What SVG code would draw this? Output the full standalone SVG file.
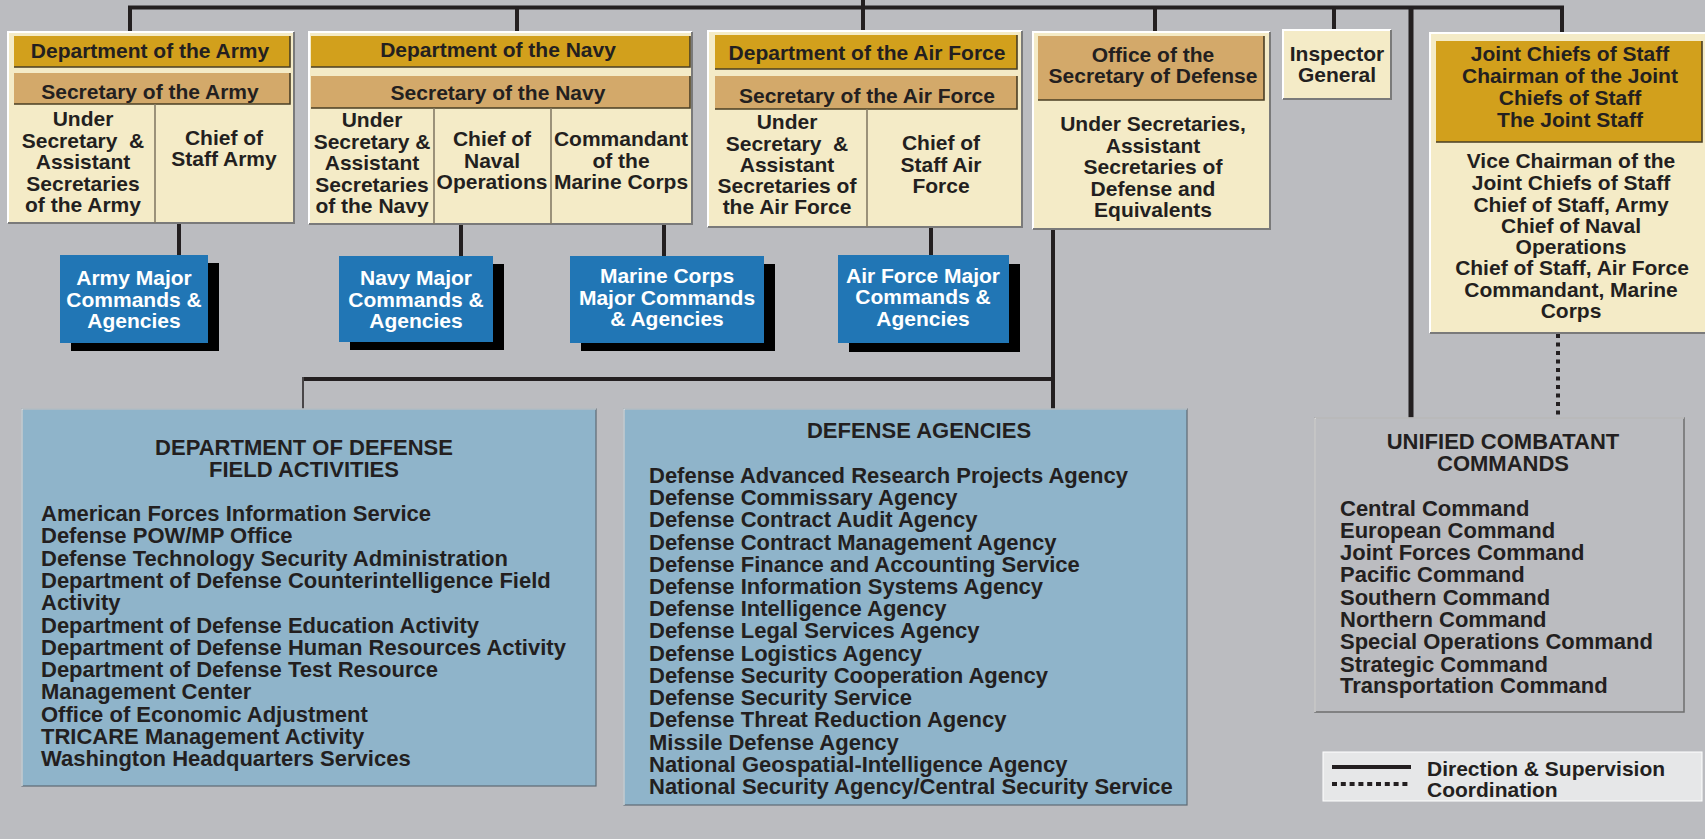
<svg xmlns="http://www.w3.org/2000/svg" width="1705" height="839" viewBox="0 0 1705 839">
<style>
.t{font-family:"Liberation Sans",Arial,Helvetica,sans-serif;font-weight:bold;font-size:21px;fill:#231F20}
.c{text-anchor:middle}
.w{fill:#FFFFFF}
.l{font-size:22px}
.cream{fill:#F4EBC7}
.gold{fill:#D2A01C}
.tan{fill:#D3A96A}
.blue{fill:#2176B5}
.shadow{fill:#000000}
.lblue{fill:#8FB4CA}
.hl{fill:none;stroke:#FFFFFF;stroke-width:2}
.sh{fill:none;stroke:#7A7A7A;stroke-width:2}
.bsh{fill:none;stroke:#4A3F25;stroke-width:1.6}
.div{stroke:#857B66;stroke-width:1.6}
.conn{fill:none;stroke:#231F20;stroke-width:4}
.dot{fill:none;stroke:#231F20;stroke-width:4;stroke-dasharray:4 4.5}
</style>
<rect x="0" y="0" width="1705" height="839" fill="#BBBCC0"/>

<g id="connectors">
<path class="conn" d="M130,32 V7.5 H1562 V33"/>
<path class="conn" d="M517,7.5 V32"/>
<path class="conn" d="M863,0 V31"/>
<path class="conn" d="M1155,7.5 V32"/>
<path class="conn" d="M1334,7.5 V30"/>
<path class="conn" d="M1411,7.5 V418" style="stroke-width:5"/>
<path class="conn" d="M179,223 V255"/>
<path class="conn" d="M461,224 V256"/>
<path class="conn" d="M664,224 V256"/>
<path class="conn" d="M931,227 V255"/>
<path class="conn" d="M1053,229 V409"/>
<path class="conn" d="M304,379 H1053"/>
<path class="conn" d="M303,377 V409" style="stroke-width:1.5"/>
<path class="dot" d="M1558,334 V418"/>
</g>

<g id="army">
<rect class="cream" x="8" y="32" width="286" height="191"/>
<path class="hl" d="M8,223 V32 H294"/><path class="sh" d="M294,32 V223 H8"/>
<rect class="gold" x="14" y="36" width="276" height="31"/><path class="bsh" d="M290,36 V67 H14"/>
<rect class="tan" x="14" y="73" width="276" height="31"/><path class="bsh" d="M290,73 V104 H14"/>
<line class="div" x1="155" y1="104" x2="155" y2="223"/>
<text class="t c" x="150" y="58">Department of the Army</text>
<text class="t c" x="150" y="99">Secretary of the Army</text>
<text class="t c"><tspan x="83" y="126">Under</tspan><tspan x="83" y="148">Secretary &#160;&amp;</tspan><tspan x="83" y="169">Assistant</tspan><tspan x="83" y="191">Secretaries</tspan><tspan x="83" y="212">of the Army</tspan></text>
<text class="t c"><tspan x="224" y="145">Chief of</tspan><tspan x="224" y="166">Staff Army</tspan></text>
</g>

<g id="navy">
<rect class="cream" x="309" y="32" width="383" height="192"/>
<path class="hl" d="M309,224 V32 H692"/><path class="sh" d="M692,32 V224 H309"/>
<rect class="gold" x="311" y="36" width="379" height="31"/><path class="bsh" d="M690,36 V67 H311"/>
<rect class="tan" x="311" y="76" width="379" height="32"/><path class="bsh" d="M690,76 V108 H311"/>
<line class="div" x1="434" y1="108" x2="434" y2="224"/>
<line class="div" x1="551" y1="108" x2="551" y2="224"/>
<text class="t c" x="498" y="57">Department of the Navy</text>
<text class="t c" x="498" y="100">Secretary of the Navy</text>
<text class="t c"><tspan x="372" y="127">Under</tspan><tspan x="372" y="149">Secretary &amp;</tspan><tspan x="372" y="170">Assistant</tspan><tspan x="372" y="192">Secretaries</tspan><tspan x="372" y="213">of the Navy</tspan></text>
<text class="t c"><tspan x="492" y="146">Chief of</tspan><tspan x="492" y="168">Naval</tspan><tspan x="492" y="189">Operations</tspan></text>
<text class="t c"><tspan x="621" y="146">Commandant</tspan><tspan x="621" y="168">of the</tspan><tspan x="621" y="189">Marine Corps</tspan></text>
</g>

<g id="airforce">
<rect class="cream" x="708" y="31" width="314" height="196"/>
<path class="hl" d="M708,227 V31 H1022"/><path class="sh" d="M1022,31 V227 H708"/>
<rect class="gold" x="715" y="35" width="302" height="34"/><path class="bsh" d="M1017,35 V69 H715"/>
<rect class="tan" x="715" y="76" width="302" height="33"/><path class="bsh" d="M1017,76 V109 H715"/>
<line class="div" x1="867" y1="109" x2="867" y2="227"/>
<text class="t c" x="867" y="60">Department of the Air Force</text>
<text class="t c" x="867" y="103">Secretary of the Air Force</text>
<text class="t c"><tspan x="787" y="129">Under</tspan><tspan x="787" y="151">Secretary &#160;&amp;</tspan><tspan x="787" y="172">Assistant</tspan><tspan x="787" y="193">Secretaries of</tspan><tspan x="787" y="214">the Air Force</tspan></text>
<text class="t c"><tspan x="941" y="150">Chief of</tspan><tspan x="941" y="172">Staff Air</tspan><tspan x="941" y="193">Force</tspan></text>
</g>

<g id="osd">
<rect class="cream" x="1033" y="32" width="237" height="197"/>
<path class="hl" d="M1033,229 V32 H1270"/><path class="sh" d="M1270,32 V229 H1033"/>
<rect class="tan" x="1038" y="36" width="226" height="64"/><path class="bsh" d="M1264,36 V100 H1038"/>
<text class="t c"><tspan x="1153" y="62">Office of the</tspan><tspan x="1153" y="83">Secretary of Defense</tspan></text>
<text class="t c"><tspan x="1153" y="131">Under Secretaries,</tspan><tspan x="1153" y="153">Assistant</tspan><tspan x="1153" y="174">Secretaries of</tspan><tspan x="1153" y="196">Defense and</tspan><tspan x="1153" y="217">Equivalents</tspan></text>
</g>

<g id="inspector-general">
<rect class="cream" x="1283" y="30" width="108" height="69"/>
<path class="hl" d="M1283,99 V30 H1391"/><path class="sh" d="M1391,30 V99 H1283"/>
<text class="t c"><tspan x="1337" y="61">Inspector</tspan><tspan x="1337" y="82">General</tspan></text>
</g>

<g id="jcs">
<rect class="cream" x="1430" y="33" width="280" height="300"/>
<path class="hl" d="M1430,333 V33 H1710"/><path class="sh" d="M1430,333 H1710"/>
<rect class="gold" x="1436" y="41" width="266" height="101"/><path class="bsh" d="M1702,41 V142 H1436"/>
<text class="t c"><tspan x="1570" y="61">Joint Chiefs of Staff</tspan><tspan x="1570" y="83">Chairman of the Joint</tspan><tspan x="1570" y="105">Chiefs of Staff</tspan><tspan x="1570" y="127">The Joint Staff</tspan></text>
<text class="t c"><tspan x="1571" y="168">Vice Chairman of the</tspan><tspan x="1571" y="190">Joint Chiefs of Staff</tspan><tspan x="1571" y="212">Chief of Staff, Army</tspan><tspan x="1571" y="233">Chief of Naval</tspan><tspan x="1571" y="254">Operations</tspan><tspan x="1572" y="275">Chief of Staff, Air Force</tspan><tspan x="1571" y="297">Commandant, Marine</tspan><tspan x="1571" y="318">Corps</tspan></text>
</g>

<g id="army-commands">
<rect class="shadow" x="71" y="263" width="148" height="88"/>
<rect class="blue" x="60" y="255" width="148" height="88"/>
<text class="t c w"><tspan x="134" y="285">Army Major</tspan><tspan x="134" y="307">Commands &amp;</tspan><tspan x="134" y="328">Agencies</tspan></text>
</g>

<g id="navy-commands">
<rect class="shadow" x="350" y="264" width="154" height="86"/>
<rect class="blue" x="339" y="256" width="154" height="86"/>
<text class="t c w"><tspan x="416" y="285">Navy Major</tspan><tspan x="416" y="307">Commands &amp;</tspan><tspan x="416" y="328">Agencies</tspan></text>
</g>

<g id="marine-commands">
<rect class="shadow" x="581" y="264" width="194" height="87"/>
<rect class="blue" x="570" y="256" width="194" height="87"/>
<text class="t c w"><tspan x="667" y="283">Marine Corps</tspan><tspan x="667" y="305">Major Commands</tspan><tspan x="667" y="326">&amp; Agencies</tspan></text>
</g>

<g id="airforce-commands">
<rect class="shadow" x="849" y="264" width="171" height="88"/>
<rect class="blue" x="838" y="255" width="171" height="88"/>
<text class="t c w"><tspan x="923" y="283">Air Force Major</tspan><tspan x="923" y="304">Commands &amp;</tspan><tspan x="923" y="326">Agencies</tspan></text>
</g>

<g id="field-activities">
<rect class="lblue" x="22" y="409" width="574" height="377" stroke="#5E6A73" stroke-width="1.2"/>
<path d="M22,786 V409 H596" fill="none" stroke="#E8EEF2" stroke-width="1.2"/>
<text class="t c l"><tspan x="304" y="455">DEPARTMENT OF DEFENSE</tspan><tspan x="304" y="477">FIELD ACTIVITIES</tspan></text>
<text class="t l">
<tspan x="41" y="521">American Forces Information Service</tspan>
<tspan x="41" y="543">Defense POW/MP Office</tspan>
<tspan x="41" y="566">Defense Technology Security Administration</tspan>
<tspan x="41" y="588">Department of Defense Counterintelligence Field</tspan>
<tspan x="41" y="610">Activity</tspan>
<tspan x="41" y="633">Department of Defense Education Activity</tspan>
<tspan x="41" y="655">Department of Defense Human Resources Activity</tspan>
<tspan x="41" y="677">Department of Defense Test Resource</tspan>
<tspan x="41" y="699">Management Center</tspan>
<tspan x="41" y="722">Office of Economic Adjustment</tspan>
<tspan x="41" y="744">TRICARE Management Activity</tspan>
<tspan x="41" y="766">Washington Headquarters Services</tspan>
</text>
</g>

<g id="defense-agencies">
<rect class="lblue" x="624" y="409" width="563" height="396" stroke="#5E6A73" stroke-width="1.2"/>
<path d="M624,805 V409 H1187" fill="none" stroke="#E8EEF2" stroke-width="1.2"/>
<text class="t c l" x="919" y="438">DEFENSE AGENCIES</text>
<text class="t l">
<tspan x="649" y="483">Defense Advanced Research Projects Agency</tspan>
<tspan x="649" y="505">Defense Commissary Agency</tspan>
<tspan x="649" y="527">Defense Contract Audit Agency</tspan>
<tspan x="649" y="550">Defense Contract Management Agency</tspan>
<tspan x="649" y="572">Defense Finance and Accounting Service</tspan>
<tspan x="649" y="594">Defense Information Systems Agency</tspan>
<tspan x="649" y="616">Defense Intelligence Agency</tspan>
<tspan x="649" y="638">Defense Legal Services Agency</tspan>
<tspan x="649" y="661">Defense Logistics Agency</tspan>
<tspan x="649" y="683">Defense Security Cooperation Agency</tspan>
<tspan x="649" y="705">Defense Security Service</tspan>
<tspan x="649" y="727">Defense Threat Reduction Agency</tspan>
<tspan x="649" y="750">Missile Defense Agency</tspan>
<tspan x="649" y="772">National Geospatial-Intelligence Agency</tspan>
<tspan x="649" y="794">National Security Agency/Central Security Service</tspan>
</text>
</g>

<g id="unified-combatant-commands">
<rect x="1315" y="418" width="369" height="294" fill="#BBBCC0" stroke="#6E6E6E" stroke-width="1.5"/>
<path d="M1315,712 V418 H1684" fill="none" stroke="#F2F2F2" stroke-width="1.2"/>
<text class="t c l"><tspan x="1503" y="449">UNIFIED COMBATANT</tspan><tspan x="1503" y="471">COMMANDS</tspan></text>
<text class="t l">
<tspan x="1340" y="516">Central Command</tspan>
<tspan x="1340" y="538">European Command</tspan>
<tspan x="1340" y="560">Joint Forces Command</tspan>
<tspan x="1340" y="582">Pacific Command</tspan>
<tspan x="1340" y="605">Southern Command</tspan>
<tspan x="1340" y="627">Northern Command</tspan>
<tspan x="1340" y="649">Special Operations Command</tspan>
<tspan x="1340" y="672">Strategic Command</tspan>
<tspan x="1340" y="693">Transportation Command</tspan>
</text>
</g>

<g id="legend">
<rect x="1323" y="752" width="379" height="49" fill="#E6E7E8" stroke="#FFFFFF" stroke-width="1"/>
<line class="conn" x1="1332" y1="767" x2="1411" y2="767"/>
<line class="dot" x1="1332" y1="784" x2="1411" y2="784" style="stroke-dasharray:5 3.8"/>
<text class="t"><tspan x="1427" y="776">Direction &amp; Supervision</tspan><tspan x="1427" y="797">Coordination</tspan></text>
</g>
</svg>
